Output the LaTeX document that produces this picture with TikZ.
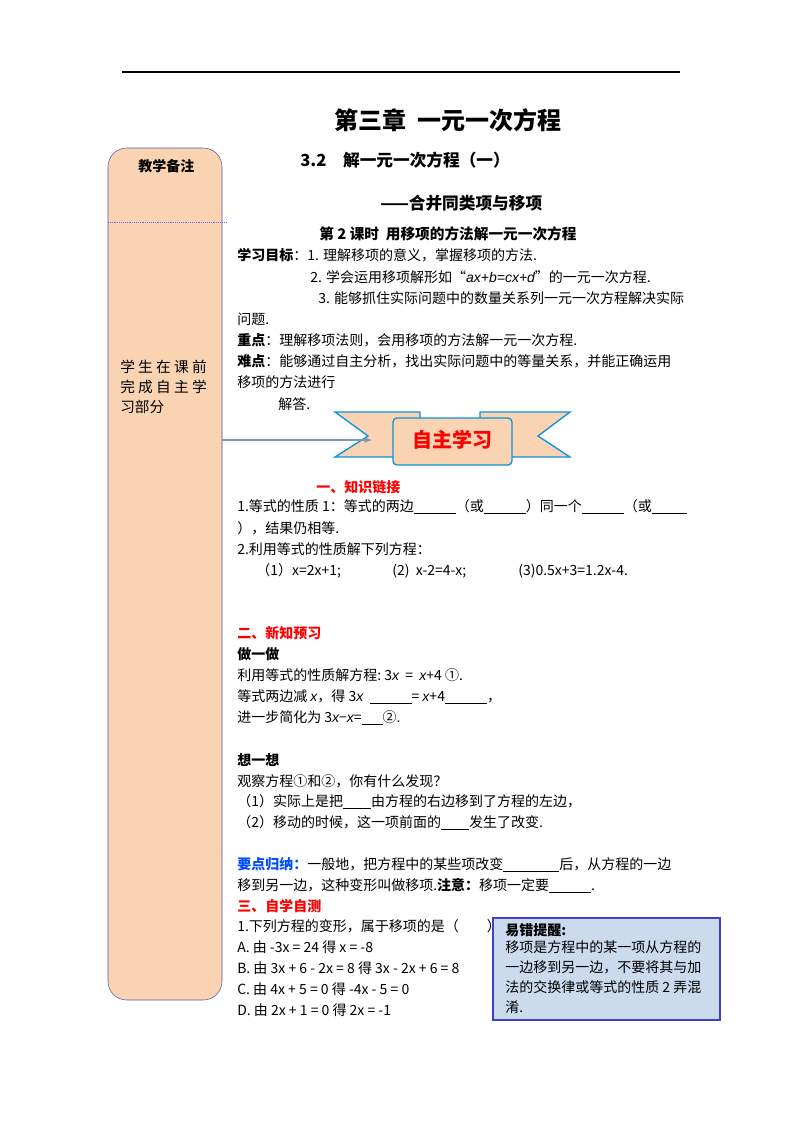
\documentclass[tikz,border=0pt]{standalone}
\usepackage{fontspec}
\setmainfont{Noto Sans CJK SC}
\newfontfamily\lat{Liberation Sans}
\newcommand\mi[1]{{\lat\itshape #1}}
\begin{document}
\begin{tikzpicture}[x=0.75pt,y=-0.75pt,
 t/.style={anchor=west,inner sep=0pt,font=\fontsize{10.5}{12}\selectfont},
 hd/.style={t,font=\fontsize{10.5}{12}\selectfont\bfseries},
 rd/.style={hd,text=red}]
\useasboundingbox (0,0) rectangle (800,1132);
\definecolor{peach}{HTML}{F9D3B2}
\definecolor{lb}{HTML}{CCDAEE}
\definecolor{arr}{HTML}{7896C0}
\draw[line width=1pt] (122,72) -- (680,72);
\draw[fill=peach,draw=gray!70!blue,rounded corners=14pt] (108,148) rectangle (222,1000);
\draw[densely dotted,blue!60] (108,222) -- (226,222);
\node[hd] (bz) at (138,166) {教学备注};
\node[anchor=north west,inner sep=0pt,align=left,font=\fontsize{11}{15}\selectfont] (xs) at (120,360) {学 生 在 课 前\\完 成 自 主 学\\习部分};
% banner
\begin{scope}[draw=cyan!80!blue,fill=peach,line width=1pt]
\filldraw (335,412) -- (420,412) -- (420,457) -- (335,457) -- (368,436) -- cycle;
\filldraw (480,412) -- (570,412) -- (538,436) -- (570,457) -- (480,457) -- cycle;
\filldraw[rounded corners=3pt] (393,418) rectangle (512,465);
\end{scope}
\coordinate (a0) at (222,440);
\coordinate (a1) at (372,440);
\draw[-latex,color=arr,line width=0.9pt] (a0) -- (a1);
\node[font=\fontsize{15}{16}\selectfont\bfseries,text=red] (zz) at (452,440) {自主学习};
\node[font=\fontsize{18}{20}\selectfont\bfseries] (tt) at (448,120) {第三章\ \ 一元一次方程};
\node[hd,font=\fontsize{12.5}{14}\selectfont\bfseries] (s1) at (300,160) {3.2\quad 解一元一次方程（一）};
\node[hd,font=\fontsize{12.5}{14}\selectfont\bfseries] (s2) at (380,203) {——合并同类项与移项};
\node[font=\fontsize{11}{13}\selectfont\bfseries] (s3) at (448,234) {第 2 课时\ \ 用移项的方法解一元一次方程};
\node[t] (l1) at (237,255) {\textbf{学习目标}：1. 理解移项的意义，掌握移项的方法.};
\node[t] (l2) at (310,277) {2. 学会运用移项解形如“\mi{ax+b=cx+d}”的一元一次方程.};
\node[t] (l3) at (318,298) {3. 能够抓住实际问题中的数量关系列一元一次方程解决实际};
\node[t] (l4) at (237,319) {问题.};
\node[t] (l5) at (237,340) {\textbf{重点}：理解移项法则，会用移项的方法解一元一次方程.};
\node[t] (l6) at (237,361) {\textbf{难点}：能够通过自主分析，找出实际问题中的等量关系，并能正确运用};
\node[t] (l7) at (237,382) {移项的方法进行};
\node[t] (l8) at (278,404) {解答.};
\node[rd] (k0) at (316,487) {一、知识链接};
\node[t] (k1) at (237,507) {1.等式的性质 1：等式的两边\underline{\hspace{3em}}（或\underline{\hspace{3em}}）同一个\underline{\hspace{3em}}（或\underline{\hspace{2.5em}}};
\node[t] (k2) at (237,528) {），结果仍相等.};
\node[t] (k3) at (237,549) {2.利用等式的性质解下列方程：};
\node[t] (k4) at (256,571) {（1）x=2x+1;};
\node[t] (k5) at (392,571) {(2)\ \ x-2=4-x;};
\node[t] (k6) at (518,571) {(3)0.5x+3=1.2x-4.};
\node[rd] (n0) at (237,633) {二、新知预习};
\node[hd] (n1) at (237,654) {做一做};
\node[t] (n2) at (237,675) {利用等式的性质解方程:\ 3\mi{x}\ \ =\ \ \mi{x}+4 ①.};
\node[t] (n3) at (237,697) {等式两边减 \mi{x}，得 3\mi{x}\ \ \underline{\hspace{3em}}=\ \mi{x}+4\underline{\hspace{3em}}，};
\node[t] (n4) at (237,718) {进一步简化为 3\mi{x}−\mi{x}=\underline{\hspace{1.5em}}②.};
\node[hd] (n5) at (237,760) {想一想};
\node[t] (n6) at (237,781) {观察方程①和②，你有什么发现？};
\node[t] (n7) at (237,802) {（1）实际上是把\underline{\hspace{2em}}由方程的右边移到了方程的左边，};
\node[t] (n8) at (237,823) {（2）移动的时候，这一项前面的\underline{\hspace{2em}}发生了改变.};
\node[t] (n9) at (237,865) {\textcolor{blue!70!cyan}{\textbf{要点归纳：}}一般地，把方程中的某些项改变\underline{\hspace{4em}}后，从方程的一边};
\node[t] (n10) at (237,886) {移到另一边，这种变形叫做移项.\textbf{注意：}移项一定要\underline{\hspace{3em}}.};
\node[rd] (z0) at (237,906) {三、自学自测};
\node[t] (z1) at (237,926) {1.下列方程的变形，属于移项的是（\qquad）};
\node[t] (z2) at (237,947) {A.\ 由\ -3x\ =\ 24\ 得\ x\ =\ -8};
\node[t] (z3) at (237,968) {B.\ 由\ 3x\ +\ 6\ -\ 2x\ =\ 8\ 得\ 3x\ -\ 2x\ +\ 6\ =\ 8};
\node[t] (z4) at (237,989) {C.\ 由\ 4x\ +\ 5\ =\ 0\ 得\ -4x\ -\ 5\ =\ 0};
\node[t] (z5) at (237,1010) {D.\ 由\ 2x\ +\ 1\ =\ 0\ 得\ 2x\ =\ -1};
\filldraw[fill=lb,draw=blue!50!gray,line width=1pt] (493,918) rectangle (720,1020);
\node[hd] (y0) at (505,930) {易错提醒:};
\node[anchor=north west,inner sep=0pt,align=left,font=\fontsize{10.5}{15}\selectfont] (y1) at (505,940) {移项是方程中的某一项从方程的\\一边移到另一边，不要将其与加\\法的交换律或等式的性质 2 弄混\\淆.};
\end{tikzpicture}
\end{document}
